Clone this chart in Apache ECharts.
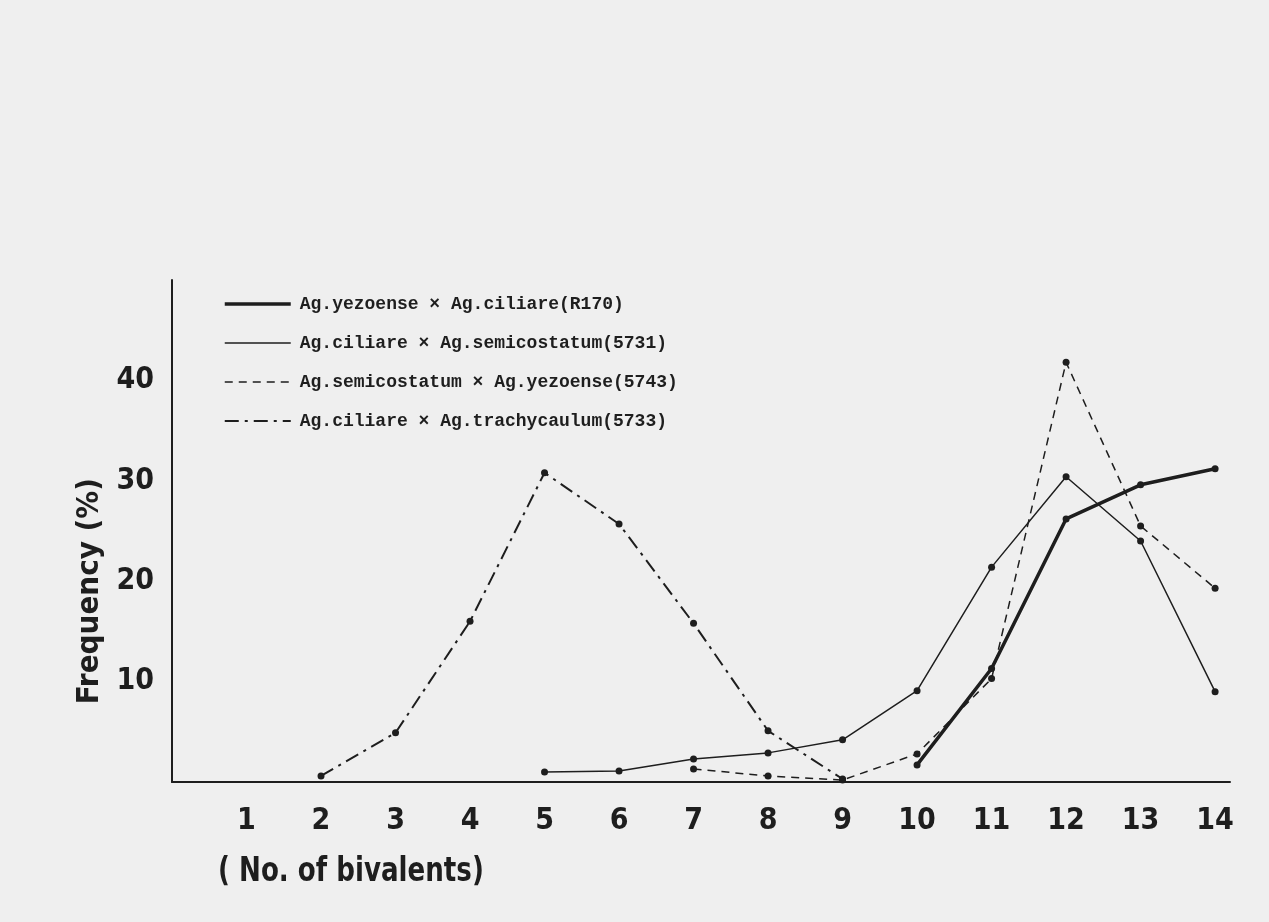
<!DOCTYPE html>
<html>
<head>
<meta charset="utf-8">
<script src="https://cdn.jsdelivr.net/npm/echarts@6/dist/echarts.min.js"></script>
<style>
html,body{margin:0;padding:0;background:#efefef;}
#c{width:1269px;height:922px;}
</style>
</head>
<body>
<div id="c"></div>
<script>
// No. of bivalents
var bivalents = [1, 2, 3, 4, 5, 6, 7, 8, 9, 10, 11, 12, 13, 14];
var yTicks = [10, 20, 30, 40];
var seriesNames = [
  'Ag.yezoense × Ag.ciliare(R170)',
  'Ag.ciliare × Ag.semicostatum(5731)',
  'Ag.semicostatum × Ag.yezoense(5743)',
  'Ag.ciliare × Ag.trachycaulum(5733)'
];
var yezoenseCiliareR170 =        [null, null, null, null, null, null, null, null, null, 1.7, 11.3, 26.2, 29.6, 31.2];
var ciliareSemicostatum5731 =    [null, null, null, null, 1.0, 1.1, 2.3, 2.9, 4.2, 9.1, 21.4, 30.4, 24.0, 9.0];
var semicostatumYezoense5743 =   [null, null, null, null, null, null, 1.3, 0.6, 0.2, 2.8, 10.3, 41.8, 25.5, 19.3];
var ciliareTrachycaulum5733 =    [null, 0.6, 4.9, 16.0, 30.8, 25.7, 15.8, 5.1, 0.3, null, null, null, null, null];

function pairs(arr){
  var out = [];
  for (var i = 0; i < bivalents.length; i++) {
    if (arr[i] !== null) out.push([bivalents[i], arr[i]]);
  }
  return out;
}

var ink = '#1e1e1e';
var handFont = '"DejaVu Sans Condensed","Liberation Sans Narrow","Roboto",sans-serif';
var typeFont = '"Liberation Mono","DejaVu Sans Mono",monospace';

var styles = [
  {width: 3.5, type: 'solid'},
  {width: 1.5, type: 'solid'},
  {width: 1.5, type: [8, 6]},
  {width: 2, type: [14, 6, 3, 6]}
];

function mk(i, arr){
  return {
    name: seriesNames[i], type: 'line', data: pairs(arr),
    symbol: 'circle', symbolSize: 7,
    lineStyle: {color: ink, width: styles[i].width, type: styles[i].type},
    itemStyle: {color: ink},
    z: 3
  };
}

var chart = echarts.init(document.getElementById('c'));
chart.setOption({
  backgroundColor: '#efefef',
  animation: false,
  grid: {left: 172, top: 280, width: 1058, height: 502},
  xAxis: {
    type: 'value', min: 0, max: 14.2, interval: 1,
    axisLine: {show: true, lineStyle: {color: ink, width: 2}},
    axisTick: {show: false},
    splitLine: {show: false},
    axisLabel: {
      margin: 24, fontSize: 30, fontWeight: 'bold', color: ink, fontFamily: handFont,
      formatter: function(v){ return bivalents.indexOf(v) >= 0 ? String(v) : ''; },
      showMaxLabel: false
    }
  },
  yAxis: {
    type: 'value', min: 0, max: 50, interval: 10,
    axisLine: {show: true, lineStyle: {color: ink, width: 2}},
    axisTick: {show: false},
    splitLine: {show: false},
    axisLabel: {
      margin: 18, fontSize: 30, fontWeight: 'bold', color: ink, fontFamily: handFont,
      formatter: function(v){ return yTicks.indexOf(v) >= 0 ? String(v) : ''; }
    }
  },
  legend: {
    orient: 'vertical', left: 218, top: 290,
    itemWidth: 66, itemHeight: 14, itemGap: 21,
    textStyle: {fontFamily: typeFont, fontWeight: 'bold', fontSize: 18, color: ink, padding: [0,0,0,4]},
    itemStyle: {opacity: 0},
    data: seriesNames.map(function(n, i){
      return {name: n, lineStyle: {width: styles[i].width, type: styles[i].type, color: ink}};
    })
  },
  graphic: [
    {type: 'text', left: 74, top: 478, rotation: Math.PI/2,
     style: {text: 'Frequency (%)', font: 'bold 31px ' + handFont, fill: ink}},
    {type: 'text', left: 218, top: 856, scaleX: 0.88,
     style: {text: '( No. of bivalents)', font: 'bold 33px ' + handFont, fill: ink}}
  ],
  series: [
    mk(0, yezoenseCiliareR170),
    mk(1, ciliareSemicostatum5731),
    mk(2, semicostatumYezoense5743),
    mk(3, ciliareTrachycaulum5733)
  ]
});
</script>
</body>
</html>
